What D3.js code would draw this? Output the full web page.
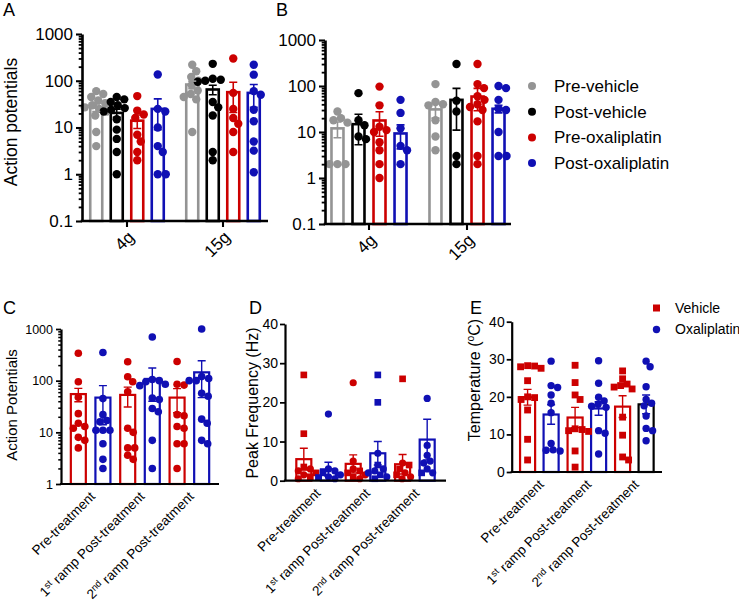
<!DOCTYPE html>
<html><head><meta charset="utf-8">
<script src="https://cdn.jsdelivr.net/npm/d3@7"></script>
<style>
body{margin:0;background:#fff}
svg{display:block}
text{font-family:Arial,"Liberation Sans",sans-serif;fill:#000}
</style>
</head><body>
<svg id="c" width="739" height="602"></svg>
<script>
// ---------------- DATA ----------------
const abGroups = ["4g", "15g"];
const abSeries = ["Pre-vehicle", "Post-vehicle", "Pre-oxaliplatin", "Post-oxaliplatin"];
const logTicksAB = [0.1, 1, 10, 100, 1000];

const aMeans = [[27, 20.5, 14, 25], [83, 65, 57, 55]];
const aSems  = [[5, 4, 4.5, 16], [15, 15, 36, 28]];
const aPoints = [
  [[60, 52, 45, 38, 33, 30, 27, 25, 22, 18, 8, 4],
   [45, 40, 35, 30, 26, 24, 22, 15, 9, 5.7, 3, 1],
   [47, 23, 19, 16, 7, 5, 3, 2],
   [136, 25, 22, 10, 4, 3, 1, 1]],
  [[220, 160, 120, 100, 80, 62, 52, 45, 40, 8],
   [230, 110, 105, 100, 95, 35, 27, 18, 3, 2],
   [300, 55, 25, 16, 12, 8, 3],
   [220, 135, 60, 50, 24, 13.6, 5, 3.2, 1.1]]
];

const bMeans = [[12, 14.8, 17.8, 9.3], [31, 50, 59, 32]];
const bSems  = [[4.5, 9.5, 9.7, 5], [11, 39, 30, 6]];
const bPoints = [
  [[28, 20, 18, 16, 2, 2, 2],
   [70, 18, 14, 8, 7],
   [97, 38, 13, 11, 10, 6, 4, 2, 1],
   [50, 26, 12, 5, 4, 2]],
  [[110, 45, 40, 38, 18, 8, 4],
   [300, 48, 28, 3, 2],
   [300, 110, 90, 60, 50, 40, 35, 30, 17, 3, 2],
   [100, 90, 50, 32, 30, 10, 3, 3]]
];

const cdeGroups = ["Pre-treatment", "1st ramp Post-treatment", "2nd ramp Post-treatment"];
const cdeSeries = ["Vehicle", "Oxaliplatin"];

const cTicks = [1, 10, 100, 1000];
const cMeans = [[55, 47], [53, 108], [47, 145]];
const cSems  = [[16, 33], [22, 68], [23, 98]];
const cPoints = [
  [[340, 95, 48, 23, 15, 13, 12, 8, 7, 5], [350, 45, 22, 17, 16, 11, 11, 11, 6, 3, 2]],
  [[232, 119, 95, 61, 12, 10, 5, 5, 3.6, 3], [700, 105, 100, 95, 85, 80, 46, 43, 29, 25, 7, 2]],
  [[235, 85, 82, 22, 21, 13, 12, 6, 6, 2], [1000, 120, 110, 100, 100, 57, 50, 18, 15, 7, 6]]
];

const linTicks = [0, 10, 20, 30, 40];
const dMeans = [[5.5, 2.9], [4.3, 7.0], [4.2, 10.5]];
const dSems  = [[2.8, 1.8], [2.3, 3.0], [2.5, 5.2]];
const dPoints = [
  [[27, 12, 3.5, 3, 2.5, 2, 1.5, 1, 0.5], [17, 3, 2.5, 2, 1.5, 1, 0.8, 0.5]],
  [[25, 5, 3, 2.5, 2, 1.5, 1, 0.5], [27, 20, 7, 4, 3, 2.5, 2, 1.5, 1, 0.5]],
  [[26, 4.5, 4, 3, 2, 1.5, 1, 0.5], [21, 9, 6.5, 5, 4.5, 3, 2, 2]]
];
const dShapes = [
  [["s","s","s","c","c","s","c","s","c"], ["c","c","c","s","c","c","s","c"]],
  [["c","c","c","s","s","c","s","c"], ["s","s","c","s","c","c","c","s","c","s"]],
  [["s","c","s","s","c","s","c","c"], ["c","c","c","c","c","c","c","s"]]
];

const eMeans = [[19.9, 15.3], [14.5, 16.9], [17.4, 18.0]];
const eSems  = [[2.1, 2.6], [2.7, 1.8], [2.9, 2.5]];
const ePoints = [
  [[28.3, 28.2, 28, 27.6, 24.3, 20, 19.8, 19.3, 16.5, 8.7, 3.2], [29.5, 23, 22.5, 20.5, 18.3, 15.8, 7.6, 5.9, 5.8, 5.6]],
  [[28.4, 23.8, 20.5, 19.3, 11.5, 11.3, 11, 10.8, 5.6, 1.3], [29.6, 23.6, 19.9, 18.9, 18, 17.5, 17.2, 11, 10.3, 4.8]],
  [[26.9, 24.8, 23.4, 23, 22.6, 22.1, 14.6, 9.8, 4, 3.2], [29.5, 28, 22.7, 19.3, 18.3, 17.6, 14.9, 11.6, 11, 8.3]]
];

// ---------------- STYLE ----------------
const GRAY = "#949494", BLACK = "#000000", RED = "#cc0000", BLUE = "#1010b4";
const abColors = [GRAY, BLACK, RED, BLUE];
const cdeColors = [RED, BLUE];

const svg = d3.select("#c");

function beeswarm(vals, cx, y, r) {
  const pts = vals.map((v, i) => ({ v, i, py: y(v) }));
  const order = pts.slice().sort((a, b) => a.py - b.py);
  const placed = [];
  for (const p of order) {
    let best = 0;
    for (let k = 0; k < 400; k++) {
      const off = k === 0 ? 0 : (k % 2 ? 1 : -1) * Math.ceil(k / 2) * 0.5;
      const ok = placed.every(q => Math.hypot(q.px - (cx + off), q.py - p.py) >= 2 * r * 0.9);
      if (ok) { best = off; break; }
    }
    p.px = cx + best;
    placed.push(p);
  }
  return pts;
}

function minorLogTicks(lo, hi) {
  const out = [];
  for (let e = Math.round(Math.log10(lo)); e < Math.round(Math.log10(hi)); e++) {
    for (let m = 2; m <= 9; m++) out.push(m * Math.pow(10, e));
  }
  return out;
}

function addCatLabel(t, name) {
  const m = name.match(/^(\d)(st|nd|rd|th) (.*)$/);
  if (!m) { t.text(name); return; }
  t.append("tspan").text(m[1]);
  t.append("tspan").text(m[2]).attr("font-size", "70%").attr("dy", "-0.45em");
  t.append("tspan").text(" " + m[3]).attr("dy", "0.32em");
}

function panel(o) {
  const g = svg.append("g");
  const y = o.y;
  const base = y.domain()[0];
  const x0 = d3.scaleBand().domain(o.groups).range(o.xRange)
    .paddingInner(o.pi0).paddingOuter(o.po0);
  const x1 = d3.scaleBand().domain(o.series).range([0, x0.bandwidth()])
    .paddingInner(o.pi1).paddingOuter(o.po1);
  const bw = x1.bandwidth();

  o.groups.forEach((gn, gi) => {
    o.series.forEach((sn, si) => {
      const m = o.means[gi][si];
      const stroke = o.outline ? o.outline(gi, si) : o.colors[si];
      g.append("rect")
        .attr("x", x0(gn) + x1(sn)).attr("width", bw)
        .attr("y", y(m)).attr("height", y(base) - y(m))
        .attr("fill", "#fff").attr("stroke", stroke).attr("stroke-width", o.barSW);
    });
  });
  o.groups.forEach((gn, gi) => {
    o.series.forEach((sn, si) => {
      const cx = x0(gn) + x1(sn) + bw / 2;
      const col = o.colors[si];
      const pts = beeswarm(o.points[gi][si], cx, y, o.r);
      pts.forEach(p => {
        const shp = o.shapes ? o.shapes[gi][si][p.i] : o.shape;
        if (shp === "s") {
          const s = o.r * 1.85;
          g.append("rect").attr("x", p.px - s / 2).attr("y", p.py - s / 2)
            .attr("width", s).attr("height", s).attr("fill", col);
        } else {
          g.append("circle").attr("cx", p.px).attr("cy", p.py).attr("r", o.r).attr("fill", col);
        }
      });
    });
  });
  o.groups.forEach((gn, gi) => {
    o.series.forEach((sn, si) => {
      const cx = x0(gn) + x1(sn) + bw / 2;
      const m = o.means[gi][si], s = o.sems[gi][si];
      const col = o.errColor ? o.errColor(gi, si) : o.colors[si];
      const lo = Math.max(m - s, base), hi = m + s;
      const cw = o.capW / 2;
      const path = `M${cx},${y(lo)}V${y(hi)}M${cx - cw},${y(hi)}H${cx + cw}` +
        (m - s > base ? `M${cx - cw},${y(lo)}H${cx + cw}` : "");
      g.append("path").attr("d", path).attr("stroke", col).attr("stroke-width", o.errSW).attr("fill", "none");
    });
  });

  const yAxis = g.append("g").attr("transform", `translate(${o.xRange[0]},0)`)
    .call(d3.axisLeft(y).tickValues(o.yTicks).tickSize(o.tickLen).tickSizeOuter(0)
      .tickPadding(o.tickPad).tickFormat(d => String(d)));
  if (o.minor) {
    g.append("g").attr("transform", `translate(${o.xRange[0]},0)`)
      .call(d3.axisLeft(y).tickValues(o.minor).tickSize(o.tickLen * 0.55).tickSizeOuter(0).tickFormat(""))
      .call(a => a.select(".domain").remove())
      .selectAll("line").attr("stroke-width", o.axisSW * 0.7);
  }
  yAxis.select(".domain").attr("stroke-width", o.axisSW);
  yAxis.selectAll(".tick line").attr("stroke-width", o.axisSW * 0.8);
  yAxis.selectAll("text").attr("font-size", o.tickFS).attr("font-family", null);

  const xAxis = g.append("g").attr("transform", `translate(0,${y(base)})`)
    .call(d3.axisBottom(x0).tickSize(o.xTickLen).tickSizeOuter(0).tickFormat(""));
  xAxis.select(".domain").attr("stroke-width", o.axisSW)
    .attr("d", `M${o.xRange[0] - o.axisSW / 2},0H${o.xRange[1]}`);
  xAxis.selectAll(".tick line").attr("stroke-width", o.axisSW * 0.8);

  o.groups.forEach(gn => {
    const cx = x0(gn) + x0.bandwidth() / 2 + o.labDx;
    const cy = y(base) + o.labDy;
    const t = g.append("text").attr("transform", `translate(${cx},${cy}) rotate(-45)`)
      .attr("text-anchor", "end").attr("dy", "0.35em").attr("font-size", o.labFS);
    addCatLabel(t, gn);
  });

  const tt = g.append("text")
    .attr("transform", `translate(${o.titleX},${o.titleY}) rotate(-90)`)
    .attr("text-anchor", "middle").attr("font-size", o.titleFS);
  if (o.titleParts) {
    tt.append("tspan").text(o.titleParts[0]);
    tt.append("tspan").text(o.titleParts[1]).attr("font-size", "65%").attr("dy", "-0.55em");
    tt.append("tspan").text(o.titleParts[2]).attr("dy", "0.36em");
  } else tt.text(o.title);

  g.append("text").attr("x", o.letterX).attr("y", o.letterY).attr("font-size", 18).text(o.letter);
}

panel({
  letter: "A", letterX: 3, letterY: 16,
  groups: abGroups, series: abSeries, means: aMeans, sems: aSems, points: aPoints,
  colors: abColors, shape: "c", r: 4.2,
  y: d3.scaleLog().domain([0.1, 1000]).range([221, 34]),
  yTicks: logTicksAB, minor: minorLogTicks(0.1, 1000),
  xRange: [82, 268], pi0: 0.2, po0: 0.06875, pi1: 0.415, po1: 0.08,
  barSW: 2.6, errSW: 1.6, capW: 8, axisSW: 2.6, tickLen: 6, tickPad: 3, tickFS: 17,
  xTickLen: 6, labDx: 4, labDy: 13, labFS: 17,
  title: "Action potentials", titleX: 17, titleY: 122, titleFS: 17.5
});

panel({
  letter: "B", letterX: 276, letterY: 16,
  groups: abGroups, series: abSeries, means: bMeans, sems: bSems, points: bPoints,
  colors: abColors, shape: "c", r: 4.2,
  y: d3.scaleLog().domain([0.1, 1000]).range([224, 40]),
  yTicks: logTicksAB, minor: minorLogTicks(0.1, 1000),
  xRange: [325, 511], pi0: 0.2, po0: 0.049, pi1: 0.43, po1: 0.08,
  barSW: 2.6, errSW: 1.6, capW: 8, axisSW: 2.6, tickLen: 6, tickPad: 3, tickFS: 17,
  xTickLen: 6, labDx: 4, labDy: 13, labFS: 17,
  title: "", titleX: -50, titleY: 0, titleFS: 17
});

const lg = svg.append("g");
abSeries.forEach((s, i) => {
  const yy = 86 + i * 25.7;
  lg.append("circle").attr("cx", 532).attr("cy", yy).attr("r", 4).attr("fill", abColors[i]);
  lg.append("text").attr("x", 554).attr("y", yy).attr("dy", "0.35em").attr("font-size", 17).text(s);
});

panel({
  letter: "C", letterX: 3, letterY: 314,
  groups: cdeGroups, series: cdeSeries, means: cMeans, sems: cSems, points: cPoints,
  colors: cdeColors, shape: "c", r: 3.8,
  y: d3.scaleLog().domain([1, 1000]).range([484, 329]),
  yTicks: cTicks, minor: minorLogTicks(1, 1000),
  xRange: [61, 219], pi0: 0, po0: 0.1, pi1: 0.39, po1: 0.199,
  barSW: 2.2, errSW: 1.4, capW: 8, axisSW: 2.2, tickLen: 5, tickPad: 3, tickFS: 12.5,
  xTickLen: 0, labDx: 2, labDy: 10, labFS: 13.5,
  title: "Action Potentials", titleX: 17, titleY: 405, titleFS: 15
});

panel({
  letter: "D", letterX: 249, letterY: 314,
  groups: cdeGroups, series: cdeSeries, means: dMeans, sems: dSems, points: dPoints,
  shapes: dShapes, colors: cdeColors, r: 3.6,
  y: d3.scaleLinear().domain([0, 40]).range([480.7, 324]),
  yTicks: linTicks,
  xRange: [285, 446], pi0: 0, po0: 0.13, pi1: 0.39, po1: 0.199,
  barSW: 2.2, errSW: 1.4, capW: 8, axisSW: 2.2, tickLen: 5, tickPad: 2, tickFS: 14,
  xTickLen: 0, labDx: 2, labDy: 10, labFS: 13.5,
  title: "Peak Frequency (Hz)", titleX: 258, titleY: 403, titleFS: 16
});

panel({
  letter: "E", letterX: 470, letterY: 314,
  groups: cdeGroups, series: cdeSeries, means: eMeans, sems: eSems, points: ePoints,
  shapes: ePoints.map(g => [g[0].map(() => "s"), g[1].map(() => "c")]),
  colors: cdeColors, r: 3.7,
  outline: (gi, si) => (gi === 2 && si === 1) ? BLACK : cdeColors[si],
  y: d3.scaleLinear().domain([0, 40]).range([472, 321.7]),
  yTicks: linTicks,
  xRange: [511.7, 662], pi0: 0, po0: 0.082, pi1: 0.36, po1: 0.19,
  barSW: 2.2, errSW: 1.4, capW: 8, axisSW: 2.2, tickLen: 5, tickPad: 2, tickFS: 14,
  xTickLen: 0, labDx: 2, labDy: 10, labFS: 13.5,
  titleParts: ["Temperature (", "o", "C)"], titleX: 480, titleY: 380, titleFS: 16
});

const le = svg.append("g");
cdeSeries.forEach((s, i) => {
  const yy = 308 + i * 21.5;
  if (i === 0) le.append("rect").attr("x", 653).attr("y", yy - 3.5).attr("width", 7).attr("height", 7).attr("fill", cdeColors[i]);
  else le.append("circle").attr("cx", 656.5).attr("cy", yy).attr("r", 3.7).attr("fill", cdeColors[i]);
  le.append("text").attr("x", 675).attr("y", yy).attr("dy", "0.35em").attr("font-size", 14).text(s);
});
</script>
</body></html>
